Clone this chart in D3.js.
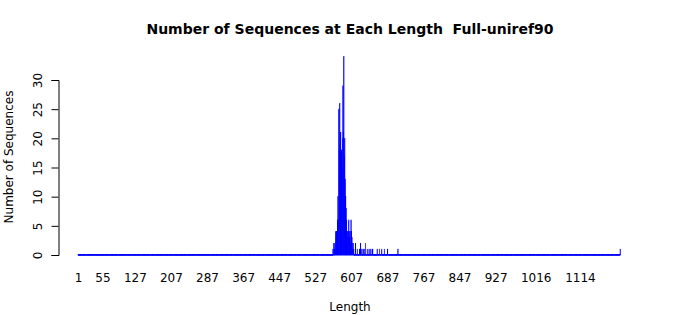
<!DOCTYPE html>
<html lang="en">
<head>
    <meta charset="UTF-8">
    <title>Number of Sequences at Each Length</title>
    <style>
        body { margin: 0; background: #fff; }
        svg text { font-family: "DejaVu Sans", sans-serif; fill: #000; white-space: pre; }
    </style>
    <script src="https://d3js.org/d3.v7.min.js"></script>
</head>
<body>
    <div id="chart"></div>
    <script>
        // length range shown on the x axis (one bar per length)
        const minLength = 1;
        const maxLength = 1203;

        // observed lengths and their counts (all other lengths are 0)
        const seqLength = [566, 567, 569, 570, 571, 572, 573, 574, 575, 576, 577, 578, 579, 580,
            581, 582, 583, 584, 585, 586, 587, 588, 589, 590, 591, 592, 593, 594, 595, 596,
            597, 598, 599, 600, 601, 602, 603, 604, 605, 606, 607, 608, 609, 610, 611, 612,
            616, 620, 625, 627, 630, 633, 635, 638, 642, 646, 650, 654, 664, 669, 674, 680,
            687, 710, 1203];
        const seqCount = [1, 2, 1, 2, 1, 4, 3, 4, 3, 6, 10, 6, 25, 18,
            26, 19, 21, 17, 18, 15, 20, 29, 21, 34, 17, 20, 13, 10, 8, 6,
            4, 4, 3, 4, 6, 4, 3, 4, 2, 6, 4, 3, 2, 1, 2, 1,
            2, 1, 1, 2, 1, 1, 1, 2, 1, 1, 1, 1, 1, 1, 1, 1,
            1, 1, 1];

        const xTickLabels = [1, 55, 127, 207, 287, 367, 447, 527, 607, 687, 767, 847, 927, 1016, 1114];
        const yTicks = [0, 5, 10, 15, 20, 25, 30];

        const width = 700, height = 315;
        const svg = d3.select("#chart").append("svg")
            .attr("width", width)
            .attr("height", height);

        const categories = d3.range(minLength, maxLength + 1);
        const countBy = new Map(seqLength.map((l, i) => [l, seqCount[i]]));
        const bars = categories.map(l => ({ len: l, n: countBy.get(l) || 0 }));

        const x = d3.scaleBand()
            .domain(categories)
            .range([78, 620.5])
            .padding(0.1);

        const y = d3.scaleLinear()
            .domain([0, 30])
            .range([255, 80]);

        // bars; a zero count still leaves a 1px blue sliver, which builds the base line
        svg.append("g")
            .selectAll("rect")
            .data(bars)
            .enter()
            .append("rect")
            .attr("x", d => x(d.len))
            .attr("width", x.bandwidth())
            .attr("y", d => d.n ? y(d.n) : y(0) - 0.5)
            .attr("height", d => d.n ? y(0) - y(d.n) : 1)
            .attr("fill", "blue")
            .attr("stroke", "blue")
            .attr("stroke-width", 0.6);

        // y axis
        const yAxis = svg.append("g")
            .attr("transform", "translate(58.5,0)")
            .call(d3.axisLeft(y).tickValues(yTicks).tickSize(7).tickPadding(0).tickFormat(d3.format("d")));
        yAxis.select(".domain").attr("stroke", "#000");
        yAxis.selectAll(".tick line").attr("stroke", "#000");
        yAxis.selectAll(".tick text")
            .attr("x", null).attr("dy", null)
            .attr("font-size", 12)
            .attr("text-anchor", "middle")
            .attr("transform", "translate(-16.5,0) rotate(-90)");

        // x labels (no axis line, like barplot names)
        const xAxis = svg.append("g")
            .attr("transform", "translate(0,255)")
            .call(d3.axisBottom(x).tickValues(xTickLabels).tickSize(0).tickPadding(18));
        xAxis.select(".domain").remove();
        xAxis.selectAll(".tick text").attr("font-size", 12);

        // titles
        svg.append("text")
            .attr("x", 350).attr("y", 34)
            .attr("text-anchor", "middle")
            .attr("font-size", 14)
            .attr("font-weight", "bold")
            .text("Number of Sequences at Each Length  Full-uniref90");

        svg.append("text")
            .attr("x", 350).attr("y", 311)
            .attr("text-anchor", "middle")
            .attr("font-size", 12)
            .text("Length");

        svg.append("text")
            .attr("transform", "translate(13,157) rotate(-90)")
            .attr("text-anchor", "middle")
            .attr("font-size", 12)
            .text("Number of Sequences");
    </script>
</body>
</html>
